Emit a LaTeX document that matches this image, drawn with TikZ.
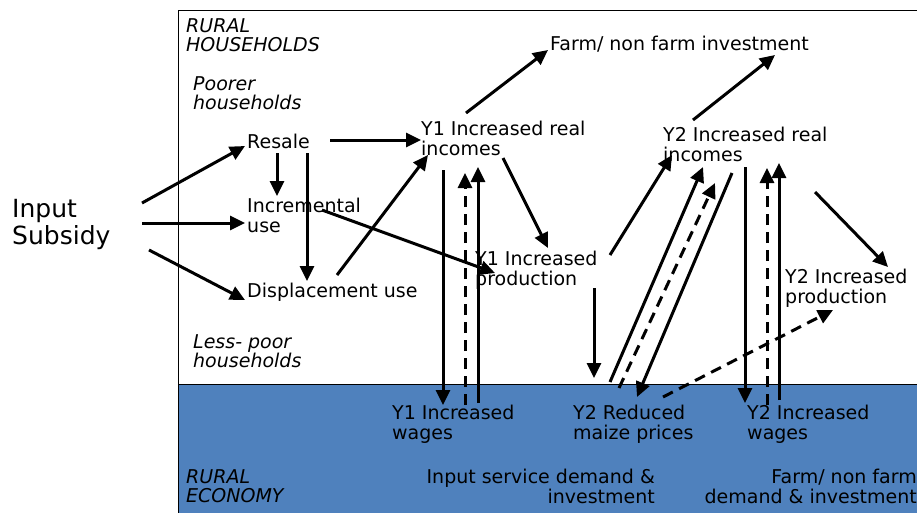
\documentclass[tikz,border=0pt]{standalone}
\usepackage{fontspec}
\setmainfont{DejaVu Sans}
\usetikzlibrary{arrows.meta}

\definecolor{econblue}{RGB}{79,129,189}
\newcommand{\twoline}[2]{\begin{tabular}[t]{@{}l@{}}#1\\#2\end{tabular}}
\newcommand{\twoliner}[2]{\begin{tabular}[t]{@{}r@{}}#1\\#2\end{tabular}}

\tikzset{
  lbl/.style={anchor=base west, inner sep=0pt, font=\fontsize{19}{20}\selectfont},
  lblit/.style={lbl, font=\fontsize{19}{18.5}\selectfont\itshape},
  lblr/.style={lbl, anchor=base east},
  arr/.style={line width=3pt, -{Triangle[length=15pt,width=14pt]}},
  darr/.style={arr, dash pattern=on 11pt off 7pt},
}

\begin{document}
\begin{tikzpicture}[x=1pt,y=-1pt]
    \useasboundingbox (0,0) rectangle (917,512);
    \clip (0,0) rectangle (917,512);
    % frame and rural economy band
    \fill[econblue] (178,384) rectangle (930,520);
    \draw[line width=0.9pt] (178,520) -- (178,10) -- (930,10);
    \draw[line width=0.9pt] (178,384) -- (930,384);

    % labels
    \node[lblit] (rh) at (186,32) {\twoline{RURAL}{HOUSEHOLDS}};
    \node[lblit] (poor) at (193,90) {\twoline{Poorer}{households}};
    \node[lblit] (lesspoor) at (193,348) {\twoline{Less- poor}{households}};
    \node[lblit] (re) at (186,483) {\twoline{RURAL}{ECONOMY}};
    \node[lbl, font=\fontsize{25}{27}\selectfont] (sub) at (12,217) {\twoline{Input}{Subsidy}};
    \node[lbl] (resale) at (247,148) {Resale};
    \node[lbl] (incr) at (247,212) {\twoline{Incremental}{use}};
    \node[lbl] (disp) at (247,297) {Displacement use};
    \node[lbl] (fnf) at (550,50) {Farm/ non farm investment};
    \node[lbl] (y1inc) at (421,135) {\twoline{Y1 Increased real}{incomes}};
    \node[lbl] (y2inc) at (663,141) {\twoline{Y2 Increased real}{incomes}};
    \node[lbl] (y1prod) at (475,265) {\twoline{Y1 Increased}{production}};
    \node[lbl] (y2prod) at (785,283) {\twoline{Y2 Increased}{production}};
    \node[lbl] (y1w) at (392,419) {\twoline{Y1 Increased}{wages}};
    \node[lbl] (y2m) at (573,419) {\twoline{Y2 Reduced}{maize prices}};
    \node[lbl] (y2w) at (747,419) {\twoline{Y2 Increased}{wages}};
    \node[lblr] (isd) at (655,483) {\twoliner{Input service demand \&}{investment}};
    \node[lblr] (fnfd) at (917,483) {\twoliner{Farm/ non farm}{demand \& investment}};

    % connector ends
    \coordinate (sub-1) at (142,203);  \coordinate (resale-in) at (245,146);
    \coordinate (sub-2) at (142,223);  \coordinate (incr-in) at (245,223);
    \coordinate (sub-3) at (149,250);  \coordinate (disp-in) at (245,300);
    \coordinate (resale-d1) at (277,153); \coordinate (incr-top) at (277,196);
    \coordinate (resale-d2) at (307,153); \coordinate (disp-top) at (307,281);
    \coordinate (resale-out) at (330,140); \coordinate (y1inc-in1) at (421,140);
    \coordinate (disp-out) at (337,275); \coordinate (y1inc-in2) at (428,155);
    \coordinate (incr-out) at (322,210); \coordinate (y1prod-in) at (495,273);
    \coordinate (y1inc-up) at (466,113); \coordinate (fnf-in1) at (548,50);
    \coordinate (y1inc-dn) at (503,158); \coordinate (y1prod-top) at (548,248);
    \coordinate (y1inc-w) at (443,170); \coordinate (y1w-in) at (443,405);
    \coordinate (y1w-d) at (465,405); \coordinate (y1inc-d) at (465,173);
    \coordinate (y1w-s) at (478,403); \coordinate (y1inc-s) at (478,167);
    \coordinate (y1prod-dn) at (594,288); \coordinate (y2m-in1) at (594,378);
    \coordinate (y1prod-up) at (610,255); \coordinate (y2inc-in1) at (672,155);
    \coordinate (y2m-s) at (610,382); \coordinate (y2inc-in2) at (703,167);
    \coordinate (y2m-d) at (619,388); \coordinate (y2inc-in3) at (715,183);
    \coordinate (y2inc-m) at (732,173); \coordinate (y2m-in2) at (637,397);
    \coordinate (y2inc-w) at (745,167); \coordinate (y2w-in) at (745,403);
    \coordinate (y2w-d) at (767,405); \coordinate (y2inc-d) at (767,168);
    \coordinate (y2w-s) at (779,400); \coordinate (y2inc-s) at (779,163);
    \coordinate (y2inc-up) at (693,120); \coordinate (fnf-in2) at (775,55);
    \coordinate (y2inc-dn) at (815,192); \coordinate (y2prod-in) at (888,267);
    \coordinate (y2m-out) at (663,397); \coordinate (y2prod-bot) at (833,310);

    % input subsidy paths
    \draw[arr] (sub-1) -- (resale-in);
    \draw[arr] (sub-2) -- (incr-in);
    \draw[arr] (sub-3) -- (disp-in);
    \draw[arr] (resale-d1) -- (incr-top);
    \draw[arr] (resale-d2) -- (disp-top);
    \draw[arr] (resale-out) -- (y1inc-in1);
    \draw[arr] (disp-out) -- (y1inc-in2);
    \draw[arr] (incr-out) -- (y1prod-in);
    % year 1
    \draw[arr] (y1inc-up) -- (fnf-in1);
    \draw[arr] (y1inc-dn) -- (y1prod-top);
    \draw[arr] (y1inc-w) -- (y1w-in);
    \draw[darr] (y1w-d) -- (y1inc-d);
    \draw[arr] (y1w-s) -- (y1inc-s);
    \draw[arr] (y1prod-dn) -- (y2m-in1);
    \draw[arr] (y1prod-up) -- (y2inc-in1);
    % year 2
    \draw[arr] (y2m-s) -- (y2inc-in2);
    \draw[darr] (y2m-d) -- (y2inc-in3);
    \draw[arr] (y2inc-m) -- (y2m-in2);
    \draw[arr] (y2inc-w) -- (y2w-in);
    \draw[darr] (y2w-d) -- (y2inc-d);
    \draw[arr] (y2w-s) -- (y2inc-s);
    \draw[arr] (y2inc-up) -- (fnf-in2);
    \draw[arr] (y2inc-dn) -- (y2prod-in);
    \draw[darr] (y2m-out) -- (y2prod-bot);
\end{tikzpicture}
\end{document}
